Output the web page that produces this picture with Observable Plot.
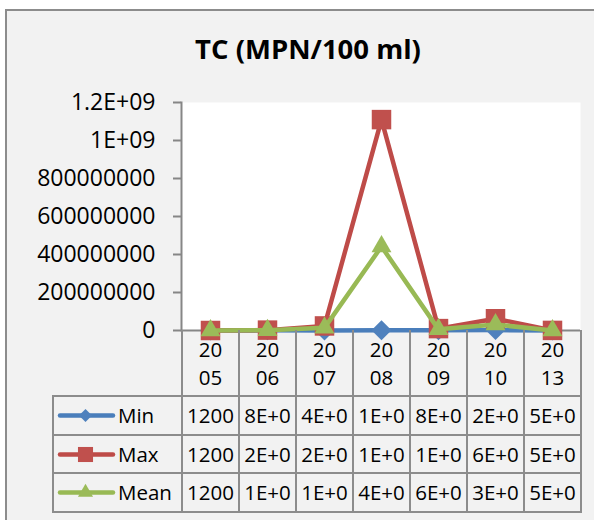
<!DOCTYPE html>
<html><head><meta charset="utf-8">
<script src="https://cdn.jsdelivr.net/npm/d3@7"></script>
<script src="https://cdn.jsdelivr.net/npm/@observablehq/plot@0.6"></script>
<style>
html,body{margin:0;padding:0;background:#fff;width:594px;height:520px;overflow:hidden;font-family:"Open Sans",sans-serif;color:#000;}
#frame{position:absolute;left:5px;top:9px;width:640px;height:560px;border:2px solid #8c8c8c;background:#f2f2f2;box-sizing:border-box;}
#title{position:absolute;left:0;top:34.6px;width:616px;text-align:center;font-weight:700;font-size:27.5px;line-height:1;white-space:nowrap;}
#chart{position:absolute;left:0;top:0;}
#tbl{position:absolute;left:52px;top:330px;border-collapse:collapse;table-layout:fixed;font-size:20.5px;}
#tbl td{border:2px solid #8c8c8c;padding:0;text-align:center;white-space:nowrap;overflow:hidden;}
#tbl tr.head td{height:65px;border-top:none;}
#tbl tr.head td.blank{border-left:none;}
#tbl tr.row td{height:36.5px;}
#tbl td.key{text-align:left;}
.keywrap{display:flex;align-items:center;}
.keywrap span{margin-left:2px;}
</style></head>
<body>
<div id="frame"></div>
<div id="title">TC (MPN/100 ml)</div>
<div id="chart"></div>
<table id="tbl"></table>
<script>
const years = ["2005","2006","2007","2008","2009","2010","2013"];
const seriesNames = ["Min","Max","Mean"];
const minValues  = [1200, 800000, 400000, 1000000, 800000, 2000000, 500000];
const maxValues  = [1200, 2000000, 24000000, 1110000000, 10000000, 62000000, 500000];
const meanValues = [1200, 1200000, 14000000, 442000000, 6000000, 31000000, 500000];
const minLabels  = ["1200","8E+0","4E+0","1E+0","8E+0","2E+0","5E+0"];
const maxLabels  = ["1200","2E+0","2E+0","1E+0","1E+0","6E+0","5E+0"];
const meanLabels = ["1200","1E+0","1E+0","4E+0","6E+0","3E+0","5E+0"];
const yTicks = [0, 200000000, 400000000, 600000000, 800000000, 1000000000, 1200000000];
const yTickLabels = ["0","200000000","400000000","600000000","800000000","1E+09","1.2E+09"];

const lineColors = {Min:"#4a7ebb", Max:"#be4b48", Mean:"#98b954"};
const markColors = {Min:"#4f81bd", Max:"#c0504d", Mean:"#9bbb59"};
const symbols = {Min:d3.symbolDiamond2, Max:d3.symbolSquare, Mean:d3.symbolTriangle};
const radii = {Min:9, Max:11, Mean:7.4};
const keyRadii = {Min:5.9, Max:8.5, Mean:5.6};

const valuesBy = {Min:minValues, Max:maxValues, Mean:meanValues};
const labelsBy = {Min:minLabels, Max:maxLabels, Mean:meanLabels};
const rows = seriesNames.flatMap(s => years.map((y,i) => ({series:s, year:y, value:valuesBy[s][i]})));

const seriesMarks = seriesNames.flatMap(s => {
  const data = rows.filter(d => d.series === s);
  return [
    Plot.line(data, {x:"year", y:"value", stroke:lineColors[s], strokeWidth:4.5, strokeLinejoin:"round", strokeLinecap:"round"}),
    Plot.dot(data, {x:"year", y:"value", symbol:symbols[s], r:radii[s], fill:markColors[s], stroke:null})
  ];
});

const chart = Plot.plot({
  width:594, height:400,
  marginLeft:181, marginRight:14, marginTop:102, marginBottom:70,
  x:{type:"point", domain:years, padding:0.5, label:null},
  y:{domain:[0,1200000000], label:null},
  style:{background:"transparent", fontFamily:'"Open Sans", sans-serif', overflow:"visible", color:"#000"},
  marks:[
    Plot.frame({fill:"white", stroke:null}),
    Plot.frame({anchor:"left", stroke:"#868686", strokeWidth:2}),
    Plot.axisY(yTicks, {label:null, tickFormat:d => yTickLabels[yTicks.indexOf(d)], tickSize:8, tickPadding:18, fontSize:23, stroke:"#868686", strokeWidth:2, fill:"#000"}),
    Plot.axisX({label:null, tickSize:0, tickPadding:6, fontSize:20.5, lineHeight:1.39, fill:"#000", tickFormat:d => d.slice(0,2) + "\n" + d.slice(2)}),
    Plot.ruleY([0], {stroke:"#868686", strokeWidth:2}),
    ...seriesMarks
  ]
});
document.getElementById("chart").appendChild(chart);

// data table
const tbl = d3.select("#tbl");
const colgroup = tbl.append("colgroup");
colgroup.append("col").style("width","129px");
years.forEach(() => colgroup.append("col").style("width","57px"));
const head = tbl.append("tr").attr("class","head");
head.append("td").attr("class","blank").style("border-bottom","2px solid #8c8c8c");
years.forEach(() => head.append("td"));
seriesNames.forEach(s => {
  const tr = tbl.append("tr").attr("class","row");
  const key = tr.append("td").attr("class","key").append("div").attr("class","keywrap");
  const k = Plot.plot({
    width:62, height:24, margin:0,
    x:{domain:[0,1], axis:null}, y:{domain:[0,1], axis:null},
    style:{background:"transparent"},
    marks:[
      Plot.ruleY([0.5], {stroke:lineColors[s], strokeWidth:4.5, strokeLinecap:"round", insetLeft:6, insetRight:3}),
      Plot.dot([0.5], {x:d => d, y:0.5, symbol:symbols[s], r:keyRadii[s], fill:markColors[s]})
    ]
  });
  key.node().appendChild(k);
  key.append("span").text(s);
  labelsBy[s].forEach(t => tr.append("td").text(t));
});
</script>
</body></html>
